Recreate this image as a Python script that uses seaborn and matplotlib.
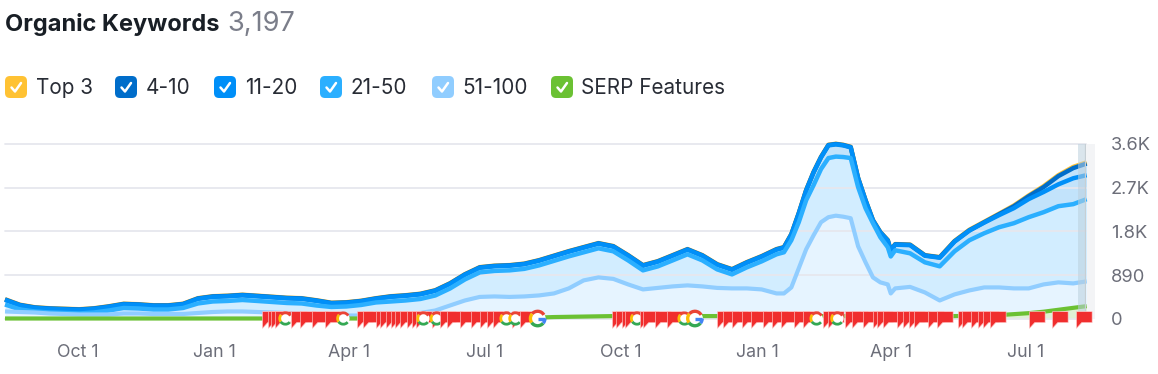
import numpy as np
import pandas as pd
import matplotlib
matplotlib.use("Agg")
import matplotlib.pyplot as plt
import seaborn as sns
from matplotlib.path import Path
from matplotlib.patches import FancyBboxPatch, Rectangle
from matplotlib.lines import Line2D

START = "2023-08-13"
days = [0,10,20,30,40,50,60,70,80,90,100,110,120,130,140,150,160,170,180,190,
        200,210,220,230,240,250,260,270,280,290,300,310,320,330,340,350,360,370,380,390,
        400,410,420,430,440,450,460,470,480,490,500,510,520,525,530,535,540,545,550,555,560,565,570,575,580,585,590,595,
        597,600,610,620,630,640,650,660,670,680,690,700,710,720,729]
kw_4_10 = [393,280,228,207,197,186,207,248,300,290,269,269,300,414,455,466,486,466,445,424,
           414,372,321,331,362,414,455,476,507,579,724,910,1055,1086,1097,1128,1200,1293,1386,1469,
           1552,1490,1303,1097,1179,1303,1428,1303,1117,1014,1159,1283,1428,1469,1738,2172,2648,3021,3331,3579,3600,3579,3538,2897,2441,2028,1779,1614,
           1407,1531,1521,1303,1262,1593,1821,1986,2152,2317,2524,2710,2938,3103,3197]
kw_21_50 = [289,187,145,124,114,103,124,165,217,207,186,186,217,310,351,362,382,362,341,320,
            310,268,238,248,279,331,351,372,403,475,620,806,951,982,993,1024,1096,1189,1282,1365,
            1448,1386,1199,993,1075,1199,1324,1199,1013,910,1055,1179,1324,1366,1614,1986,2441,2752,3083,3310,3340,3331,3310,2710,2276,1966,1676,1470,
            1280,1407,1345,1159,1076,1386,1614,1759,1883,1966,2090,2193,2317,2359,2462]
kw_51_100 = [145,134,124,103,93,83,83,83,103,103,93,93,93,114,134,145,145,134,124,114,
             103,83,62,62,62,83,93,103,114,165,269,372,445,455,445,455,476,517,621,786,
             848,817,703,600,631,662,683,662,631,621,621,600,517,517,641,1035,1428,1717,1986,2090,2121,2100,2069,1490,1159,848,745,703,
             517,621,652,538,372,497,579,641,641,621,621,703,745,724,766]
kw_serp = [0,0,0,0,0,0,0,0,0,0,0,0,0,0,0,0,0,0,0,0,
           0,0,0,0,0,0,0,0,0,0,0,0,0,0,0,0,20,30,35,40,
           45,50,50,50,50,50,50,50,50,50,50,50,50,50,50,50,50,50,50,50,50,50,50,50,50,50,50,50,
           50,50,50,50,50,50,55,60,70,90,110,140,180,220,255]
gap_11_20 = [8,8,8,8,8,8,8,8,8,8,8,8,8,8,8,8,8,8,8,8,
             8,8,8,8,8,8,8,8,8,8,8,8,8,8,8,8,8,8,8,8,
             8,8,8,8,8,8,8,8,8,8,8,8,8,8,8,8,8,8,8,8,8,8,8,8,8,8,8,8,
             8,8,8,8,8,8,8,8,20,40,60,100,170,210,240]
gap_top3 = [5,5,5,5,5,5,5,5,5,5,5,5,5,5,5,5,5,5,5,5,
            5,5,5,5,5,5,5,5,5,5,5,5,5,5,5,5,5,5,5,5,
            5,5,5,5,5,5,5,5,5,5,5,5,5,5,5,5,5,5,5,5,5,5,5,5,5,5,5,5,
            5,5,5,5,5,8,10,10,10,15,15,20,20,25,25]

flag_days = [173,177,179,182,193,199,207,216,237,241,250,253,257,260,263,266,271,274,277,
             288,293,298,307,314,320,325,329,342,347,409,412,416,418,428,430,438,446,
             480,484,490,497,503,511,517,523,532,538,551,555,566,571,578,585,588,592,
             601,605,609,613,622,628,642,645,651,656,659,664,690,706,722]
google_days = [189,228,282,291,338,344,426,458,547,561]
google_big_days = [359,465]

ytick_vals = [0,890,1800,2700,3600]
ytick_text = ["0","890","1.8K","2.7K","3.6K"]
xtick_dates = ["2023-10-01","2024-01-01","2024-04-01","2024-07-01","2024-10-01","2025-01-01","2025-04-01","2025-07-01"]
xtick_text = ["Oct 1","Jan 1","Apr 1","Jul 1","Oct 1","Jan 1","Apr 1","Jul 1"]

legend_names = ["Top 3","4-10","11-20","21-50","51-100","SERP Features"]
legend_colors = ["#ffc233","#006dca","#008ff8","#2bafff","#90cdff","#6bc133"]

W, H = 1158, 374
sns.set_theme(style="white")
plt.rcParams["font.family"] = ["Inter","DejaVu Sans"]
fig = plt.figure(figsize=(W/100, H/100), dpi=100, facecolor="white")
ax = fig.add_axes([5/W, (H-318.5)/H, 1081/W, 174.5/H])
ui = fig.add_axes([0,0,1,1], zorder=-1)
ui.set_xlim(0,W); ui.set_ylim(H,0); ui.axis("off")

t0 = pd.Timestamp(START)
dates = t0 + pd.to_timedelta(days, unit="D")
top = np.array(kw_4_10, float)
l2050 = np.array(kw_21_50, float)
l51 = np.array(kw_51_100, float)
serp = np.array(kw_serp, float)
l1120 = top - np.array(gap_11_20)
ltop3 = top + np.array(gap_top3)

ax.fill_between(dates, 0, l51, color="#e6f4ff", lw=0, zorder=1)
ax.fill_between(dates, l51, l2050, color="#d2edff", lw=0, zorder=1)
ax.fill_between(dates, l2050, top, color="#c2e3fb", lw=0, zorder=1)
ax.fill_between(dates, 0, serp, color="#dff0d6", lw=0, zorder=1.2)

for yv in ytick_vals:
    ax.axhline(yv, color="#e6e7ee", lw=1.3, zorder=1.5, clip_on=False)

series = [(ltop3,"#ffc233",3.2),(top,"#006dca",3.2),(l1120,"#008ff8",3.2),(l2050,"#2bafff",3.2),(l51,"#90cdff",3.0),(serp,"#6bc133",3.0)]
for i,(vals,col,lw) in enumerate(series):
    sns.lineplot(x=dates, y=vals, ax=ax, color=col, lw=lw, estimator=None, errorbar=None,
                 zorder=2+i*0.1, solid_joinstyle="round", solid_capstyle="butt", clip_on=False)

xmin, xmax = t0, t0 + pd.Timedelta(days=728.6)
ax.set_xlim(xmin, xmax)
ax.set_ylim(0, 3600)
ax.axvspan(t0+pd.Timedelta(days=723.2), xmax, color="#bcd0de", alpha=0.55, lw=0, zorder=3)
ax.axvline(xmax, color="#c6cfd4", lw=1.6, zorder=3)
ui.add_patch(Rectangle((1086,144),9,175,color="#f3f4f6",lw=0))

flag_path = Path([(0,7.5),(15,7.5),(15,-3),(5,-3),(0,-8.5),(0,7.5)], closed=True)
arc_red = Path.arc(30,140); arc_yel = Path.arc(140,215); arc_grn = Path.arc(215,320); arc_blu = Path.arc(320,360)
bar = Path([(0,0),(1,0)],[Path.MOVETO,Path.LINETO])
circle = Path.unit_circle()

events = sorted([(x,"f") for x in flag_days]+[(x,"g") for x in google_days]+[(x,"b") for x in google_big_days])
z = 6
for day,kind in events:
    dt = t0+pd.Timedelta(days=day)
    z += 0.01
    if kind=="f":
        ax.scatter([dt],[0],marker=flag_path,s=22.5**2,facecolor="#f02e2e",edgecolor="#ffc8c8",linewidths=0.45,clip_on=False,zorder=z)
    else:
        big = kind=="b"
        if big: z += 3
        rs = 110 if big else 68
        lw = 2.4 if big else 2.0
        ax.scatter([dt],[0],marker=circle,s=rs*1.2,facecolor="white",edgecolor="none",clip_on=False,zorder=z)
        arcs = [(arc_red,"#ea4335"),(arc_yel,"#fbbc05"),(arc_grn,"#34a853")]
        if big: arcs += [(arc_blu,"#4285f4"),(bar,"#4285f4")]
        for p,c in arcs:
            ax.scatter([dt],[0],marker=p,s=rs,facecolor="none",edgecolor=c,linewidths=lw,clip_on=False,zorder=z+0.001)

ax.set_xlabel(""); ax.set_ylabel("")
ax.set_xticks(pd.to_datetime(xtick_dates)); ax.set_xticklabels(xtick_text)
ax.set_yticks(ytick_vals); ax.set_yticklabels(ytick_text)
ax.yaxis.tick_right()
ax.tick_params(axis="x",length=0,pad=18.5,labelsize=12.8,labelcolor="#6c6e79")
ax.tick_params(axis="y",length=0,pad=18,labelsize=13.2,labelcolor="#6c6e79")
for s in ax.spines.values(): s.set_visible(False)
ax.patch.set_alpha(0)
ax.set_axisbelow(False)

ui.text(5,24,"Organic Keywords",fontsize=17.0,fontweight="bold",color="#181e25",va="center",ha="left")
ui.text(227,24,"3,197",fontsize=19.6,color="#7b7e8a",va="center",ha="left")

box_x = [5,115,214,320,432,551]
text_x = [36,146,245,351,462,581]
for bx,tx,name,col in zip(box_x,text_x,legend_names,legend_colors):
    ui.add_patch(FancyBboxPatch((bx,76),22,22,boxstyle="round,pad=0,rounding_size=5",mutation_scale=1,lw=0,fc=col))
    ui.add_line(Line2D([bx+6.5,bx+10,bx+16],[87.5,91.5,83],color="white",lw=1.8,solid_capstyle="round",solid_joinstyle="round",zorder=3))
    ui.text(tx,87.5,name,fontsize=14.9,color="#282c35",va="center",ha="left")

fig.savefig("out.png",dpi=100,facecolor="white")
